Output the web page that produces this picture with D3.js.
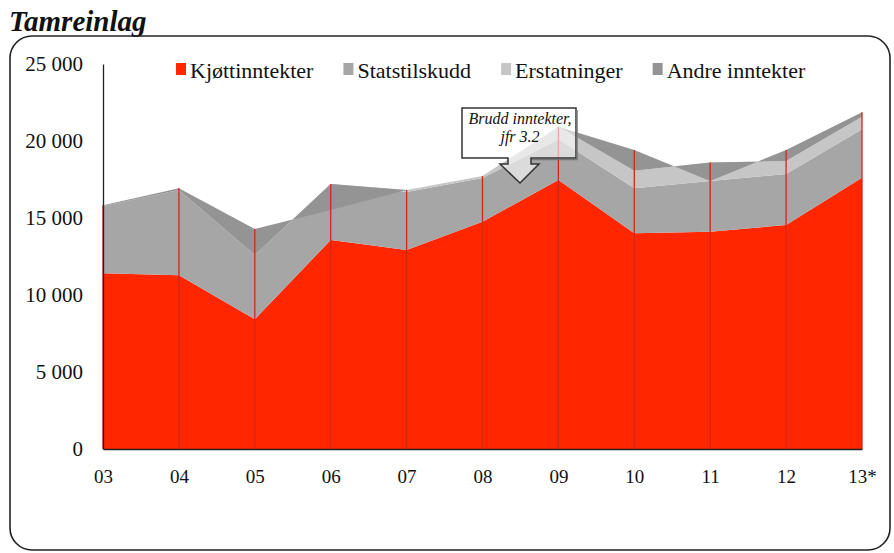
<!DOCTYPE html>
<html>
<head>
<meta charset="utf-8">
<script src="https://cdn.jsdelivr.net/npm/d3@7"></script>
<style>
  body { margin: 0; background: white; }
  text { font-family: "Liberation Serif", "Times New Roman", serif; }
</style>
</head>
<body>
<div id="canvas"></div>
<script>
// Chart data (NOK 1000)
var years = ["03", "04", "05", "06", "07", "08", "09", "10", "11", "12", "13*"];
var seriesNames = ["Kjøttinntekter", "Statstilskudd", "Erstatninger", "Andre inntekter"];
var kjott = [11410, 11280, 8420, 13570, 12920, 14760, 17470, 14010, 14110, 14550, 17620];
var stat = [4370, 5540, 4180, 3640, 3770, 2840, 2640, 2920, 3290, 3310, 3140];
var ersta = [0, 0, 0, 0, 130, 130, 820, 1140, 1200, 840, 820];
var andre = [50, 110, 1690, -1690, 0, 0, 0, 1350, -1200, 720, 280];
var yTicks = [0, 5000, 10000, 15000, 20000, 25000];
var colors = ["#ff2600", "#a6a6a6", "#c6c6c6", "#949494"];

var w = 894;
var h = 553;
var margin = {top: 64, right: 32, bottom: 104, left: 103};
var innerWidth = w - margin.left - margin.right;
var innerHeight = h - margin.top - margin.bottom;

var svg = d3.select("#canvas")
    .append("svg")
    .attr("width", w)
    .attr("height", h)
    .style("display", "block");

// title + rounded frame
svg.append("text")
    .attr("x", 9)
    .attr("y", 31)
    .attr("font-size", 29)
    .attr("font-weight", "bold")
    .attr("font-style", "italic")
    .attr("fill", "#111")
    .text("Tamreinlag");

svg.append("rect")
    .attr("x", 10)
    .attr("y", 36)
    .attr("width", 880)
    .attr("height", 514)
    .attr("rx", 22)
    .attr("fill", "none")
    .attr("stroke", "#222")
    .attr("stroke-width", 1.6);

var x_scale = d3.scalePoint()
    .domain(years)
    .range([margin.left, margin.left + innerWidth]);

var y_scale = d3.scaleLinear()
    .domain([0, 25000])
    .range([margin.top + innerHeight, margin.top]);

// build table and stack (Excel-like: plain accumulation, negatives allowed)
var table = years.map(function(yr, i) {
    return {year: yr, k: kjott[i], s: stat[i], e: ersta[i], a: andre[i]};
});
var stacked = d3.stack().keys(["k", "s", "e", "a"])(table);

var area = d3.area()
    .x(d => x_scale(d.data.year))
    .y0(d => y_scale(d[0]))
    .y1(d => y_scale(d[1]));

svg.append("g")
    .selectAll("path")
    .data(stacked)
    .join("path")
    .attr("d", area)
    .attr("fill", (d, i) => colors[i]);

// drop lines at each year
var tops = table.map(function(d, i) {
    return d3.max(stacked, s => Math.max(s[i][0], s[i][1]));
});
svg.append("g")
    .selectAll("line")
    .data(table)
    .join("line")
    .attr("x1", d => x_scale(d.year))
    .attr("x2", d => x_scale(d.year))
    .attr("y1", y_scale(0))
    .attr("y2", (d, i) => y_scale(tops[i]))
    .attr("stroke", "#d4261a")
    .attr("stroke-width", 1.3);

// axes
var nb = d3.formatLocale({decimal: ",", thousands: " ", grouping: [3], currency: ["", " kr"]});
var yAxis = svg.append("g")
    .attr("transform", `translate(${margin.left},0)`)
    .call(d3.axisLeft(y_scale).tickValues(yTicks).tickSize(0).tickSizeOuter(0).tickPadding(20).tickFormat(nb.format(",")));
yAxis.select(".domain").attr("stroke", "#222").attr("stroke-width", 1.3);
yAxis.selectAll("text")
    .attr("font-size", 21)
    .attr("fill", "#111")
    .style("font-family", "'Liberation Serif', serif");

var xAxis = svg.append("g")
    .attr("transform", `translate(0,${margin.top + innerHeight})`)
    .call(d3.axisBottom(x_scale).tickSize(0).tickSizeOuter(0).tickPadding(21));
xAxis.select(".domain").attr("stroke", "#222").attr("stroke-width", 1.6);
xAxis.selectAll("text")
    .attr("font-size", 19)
    .attr("fill", "#111")
    .style("font-family", "'Liberation Serif', serif");

// legend
var lx = 176;
seriesNames.forEach(function(name, i) {
    svg.append("rect")
        .attr("x", lx)
        .attr("y", 63)
        .attr("width", 10)
        .attr("height", 12)
        .attr("fill", colors[i]);
    var t = svg.append("text")
        .attr("x", lx + 14)
        .attr("y", 78)
        .attr("font-size", 22)
        .attr("fill", "#111")
        .text(name);
    lx += 14 + t.node().getComputedTextLength() + 30;
});

// callout "Brudd inntekter"
var callout = svg.append("g");
callout.append("path")
    .attr("d", "M462,108 H576 V158 H531 V164 H539 L520,183 L500,164 H508 V158 H462 Z")
    .attr("fill", "rgba(255,255,255,0.6)")
    .attr("stroke", "#333")
    .attr("stroke-width", 1.5);
callout.append("path")
    .attr("d", "M577,110 V159.5 H532")
    .attr("fill", "none")
    .attr("stroke", "#777")
    .attr("stroke-width", 1.5);
callout.append("text")
    .attr("x", 520)
    .attr("y", 124)
    .attr("text-anchor", "middle")
    .attr("font-size", 16)
    .attr("font-style", "italic")
    .attr("fill", "#111")
    .text("Brudd inntekter,");
callout.append("text")
    .attr("x", 520)
    .attr("y", 142)
    .attr("text-anchor", "middle")
    .attr("font-size", 16)
    .attr("font-style", "italic")
    .attr("fill", "#111")
    .text("jfr 3.2");
</script>
</body>
</html>
